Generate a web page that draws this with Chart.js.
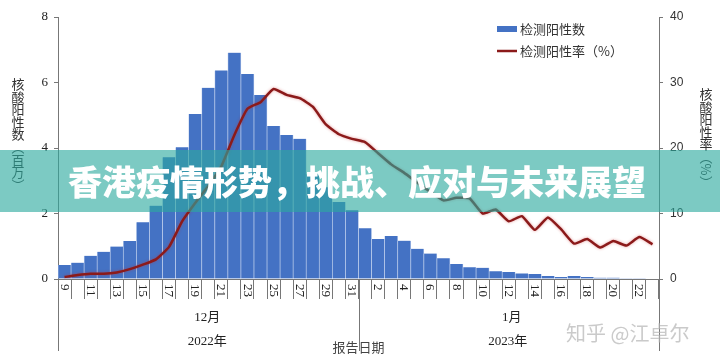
<!DOCTYPE html>
<html>
<head>
<meta charset="utf-8">
<script src="https://cdn.jsdelivr.net/npm/chart.js@4"></script>
<style>
  html, body { margin: 0; padding: 0; background: #fff; }
  #wrap { position: relative; width: 720px; height: 362px; }
</style>
</head>
<body>
<div id="wrap"><canvas id="chart" width="720" height="362"></canvas></div>
<script>
// report dates, 2022-12-09 .. 2023-01-23
const days = ['9','10','11','12','13','14','15','16','17','18','19','20','21','22','23','24','25','26','27','28','29','30','31',
  '1','2','3','4','5','6','7','8','9','10','11','12','13','14','15','16','17','18','19','20','21','22','23']

// positive count, millions
const positiveCount = [0.43,0.50,0.71,0.83,0.99,1.16,1.73,2.24,3.72,4.02,5.04,5.84,6.37,6.91,6.26,5.62,4.67,4.40,4.28,3.20,2.80,2.35,2.10,
  1.55,1.22,1.31,1.17,0.92,0.78,0.63,0.46,0.36,0.34,0.24,0.21,0.17,0.15,0.09,0.06,0.09,0.06,0.04,0.04,0.02,0.01,0]

// positive rate, %
const positiveRate = [0.3,0.6,0.8,0.8,1.0,1.5,2.2,3.0,4.9,8.8,11.6,14.2,17.2,22.0,26.0,27.0,29.0,28.1,27.6,26.3,23.6,22.1,21.4,
  20.9,19.2,17.5,16.2,14.7,13.3,12.0,12.4,12.3,10.0,10.6,8.8,9.6,7.5,9.4,7.6,5.4,6.1,4.8,5.8,5.1,6.4,5.3]

const leftTicks = [0, 2, 4, 6, 8]
const rightTicks = [0, 10, 20, 30, 40]
const monthLabels = ['12月', '1月']
const yearLabels = ['2022年', '2023年']
const title = '香港疫情形势，挑战、应对与未来展望'

const CJK = '"Noto Sans CJK SC", "Noto Sans", sans-serif'
const SERIF = '"Liberation Serif", "Noto Sans CJK SC", serif'

// draws vertical stacked text, one char per row
function stackText(ctx, chars, x, y0, step) {
  chars.forEach((c, i) => {
    const y = y0 + i * step
    if (c === '%') {
      ctx.save()
      ctx.translate(x, y)
      ctx.rotate(Math.PI / 2)
      ctx.fillText(c, 0, 0)
      ctx.restore()
    } else {
      ctx.fillText(c, x, y)
    }
  })
}

const extras = {
  id: 'extras',
  beforeDatasetDraw(chart, args) {
    if (args.index === 1) {
      const ctx = chart.ctx
      ctx.save()
      ctx.shadowColor = 'rgba(200,40,40,0.45)'
      ctx.shadowBlur = 3
    }
  },
  afterDatasetDraw(chart, args) {
    if (args.index === 1) chart.ctx.restore()
  },
  afterDraw(chart) {
    const ctx = chart.ctx
    const x = chart.scales.x
    const area = chart.chartArea
    const half = (x.getPixelForValue(1) - x.getPixelForValue(0)) / 2

    ctx.save()
    // rotated day labels, every other day
    ctx.fillStyle = '#222'
    ctx.font = '13px ' + SERIF
    ctx.textAlign = 'left'
    ctx.textBaseline = 'middle'
    days.forEach((d, i) => {
      if (i % 2) return
      ctx.save()
      ctx.translate(x.getPixelForValue(i) - 0.5, area.bottom + 5)
      ctx.rotate(Math.PI / 2)
      ctx.fillText(d, 0, 0)
      ctx.restore()
    })

    // long lines: axes extended and the year break
    ctx.strokeStyle = '#777'
    ctx.lineWidth = 1
    const yearBreak = x.getPixelForValue(23) - half
    ;[area.left, area.right, yearBreak].forEach(px => {
      ctx.beginPath()
      ctx.moveTo(Math.round(px) + 0.5, area.bottom)
      ctx.lineTo(Math.round(px) + 0.5, 351)
      ctx.stroke()
    })

    // month / year text
    ctx.fillStyle = '#222'
    ctx.font = '13px ' + SERIF
    ctx.textAlign = 'center'
    const decMid = x.getPixelForValue(11)
    const janMid = x.getPixelForValue(34)
    ctx.fillText(monthLabels[0], decMid - 1, 318)
    ctx.fillText(yearLabels[0], decMid - 1, 342)
    ctx.fillText(monthLabels[1], janMid + 3, 318)
    ctx.fillText(yearLabels[1], janMid - 1, 342)

    ctx.fillStyle = '#444'
    ctx.font = '13px ' + CJK
    ctx.fillText('报告日期', yearBreak, 347)

    // axis titles
    ctx.font = '13px ' + CJK
    ctx.fillStyle = '#333'
    stackText(ctx, ['核','酸','阳','性','数','︵','百','万','︶'], 18, 84, 12.6)
    stackText(ctx, ['核','酸','阳','性','率','︵','%','︶'], 706, 94, 12.6)

    // legend
    ctx.fillStyle = '#4472c4'
    ctx.fillRect(497, 26, 20, 6)
    ctx.strokeStyle = '#8b1a1a'
    ctx.lineWidth = 2.5
    ctx.beginPath()
    ctx.moveTo(497, 51)
    ctx.lineTo(517, 51)
    ctx.stroke()
    ctx.fillStyle = '#333'
    ctx.textAlign = 'left'
    ctx.font = '13px ' + CJK
    ctx.fillText('检测阳性数', 520, 29)
    ctx.fillText('检测阳性率（%）', 520, 51)

    // watermark
    ctx.fillStyle = 'rgba(180,180,180,0.7)'
    ctx.font = '20px ' + CJK
    ctx.fillText('知乎 @江卓尔', 566, 333)

    // title banner on top
    ctx.fillStyle = 'rgba(44,169,158,0.62)'
    ctx.fillRect(0, 150, 720, 62)
    ctx.fillStyle = '#fff'
    ctx.font = '900 34px ' + CJK
    ctx.textAlign = 'center'
    ctx.fillText(title, 357, 182)
    ctx.restore()
  }
}

new Chart(document.getElementById('chart'), {
  data: {
    labels: days,
    datasets: [
      {
        type: 'bar',
        label: '检测阳性数',
        data: positiveCount,
        yAxisID: 'y',
        backgroundColor: '#4472c4',
        borderColor: '#b9cbeb',
        borderWidth: { left: 0.7, right: 0.7, top: 0, bottom: 0 },
        barPercentage: 1,
        categoryPercentage: 1,
        order: 1
      },
      {
        type: 'line',
        label: '检测阳性率（%）',
        data: positiveRate,
        yAxisID: 'y1',
        borderColor: '#8b1a1a',
        borderWidth: 2.5,
        pointRadius: 0,
        tension: 0.15,
        order: 0
      }
    ]
  },
  options: {
    responsive: false,
    devicePixelRatio: 1,
    animation: false,
    layout: { padding: { top: 17, left: 0, right: 0, bottom: 0 } },
    plugins: { legend: { display: false }, tooltip: { enabled: false } },
    scales: {
      x: {
        offset: true,
        grid: { offset: true, drawOnChartArea: false, tickLength: 20, color: '#777' },
        border: { color: '#777' },
        ticks: { display: false },
        afterFit(s) { s.height = 83 }
      },
      y: {
        position: 'left',
        min: 0, max: 8,
        afterBuildTicks(s) { s.ticks = leftTicks.map(v => ({ value: v })) },
        grid: { drawOnChartArea: false, tickLength: 4, color: '#777' },
        border: { color: '#777' },
        ticks: { font: { family: SERIF, size: 13 }, color: '#222', padding: 6 },
        afterFit(s) { s.width = 58 }
      },
      y1: {
        position: 'right',
        min: 0, max: 40,
        afterBuildTicks(s) { s.ticks = rightTicks.map(v => ({ value: v })) },
        grid: { drawOnChartArea: false, tickLength: 4, color: '#777' },
        border: { color: '#777' },
        ticks: { font: { family: '"Liberation Sans", sans-serif', size: 12 }, color: '#333', padding: 7 },
        afterFit(s) { s.width = 61 }
      }
    }
  },
  plugins: [extras]
})
</script>
</body>
</html>
